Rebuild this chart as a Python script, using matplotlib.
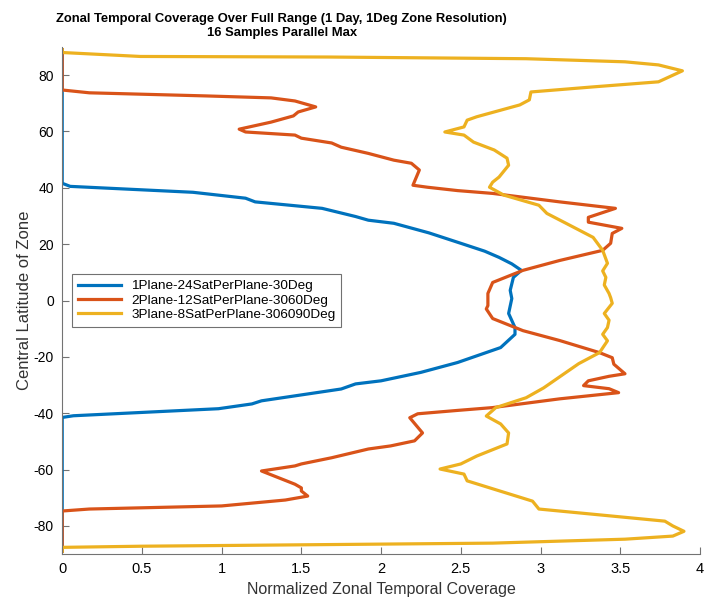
##
## === DEPENDENCIES
##

import matplotlib
matplotlib.use("Agg")
import matplotlib.pyplot as plt

##
## === DATA
##

BLUE_COV = [0, 0, 0.05, 0.82, 1.15, 1.21, 1.63, 1.84, 1.92, 2.08, 2.3, 2.5, 2.65, 2.74, 2.82,
            2.88, 2.83, 2.81, 2.82, 2.8, 2.84, 2.84, 2.75, 2.48, 2.25, 2.0, 1.84, 1.75, 1.25,
            1.19, 0.98, 0.07, 0, 0]
BLUE_LAT = [89, 41.6, 40.5, 38.4, 36.3, 35, 32.7, 29.8, 28.5, 27.4, 24, 20.3, 17.5, 15.3, 13,
            10.7, 8.2, 3.6, 0.7, -4.6, -9.6, -12, -16.7, -22, -25.5, -28.5, -29.6, -31.4, -35.6,
            -36.7, -38.4, -40.9, -41.5, -89]

ORANGE_COV = [0, 0, 0.17, 0.9, 1.31, 1.46, 1.59, 1.48, 1.45, 1.31, 1.11, 1.15, 1.46, 1.5,
              1.69, 1.75, 1.92, 2.08, 2.19, 2.24, 2.2, 2.29, 2.48, 2.7, 3.12, 3.47, 3.3, 3.3,
              3.51, 3.45, 3.44, 3.39, 3.12, 2.89, 2.7, 2.67, 2.67, 2.66, 2.7, 2.89, 3.12, 3.37,
              3.45, 3.46, 3.53, 3.43, 3.3, 3.27, 3.43, 3.49, 3.12, 2.7, 2.48, 2.23, 2.18, 2.26,
              2.21, 2.06, 1.92, 1.69, 1.5, 1.46, 1.25, 1.46, 1.5, 1.5, 1.54, 1.4, 1.0, 0.17, 0, 0]
ORANGE_LAT = [89, 74.7, 73.7, 72.6, 71.9, 70.8, 68.7, 66.9, 65.5, 63.3, 60.8, 59.8, 58.7, 57.6,
              55.9, 54.4, 52.2, 49.8, 48.7, 46.3, 40.9, 40.2, 39, 38, 35, 32.7, 29.5, 27.8,
              25.6, 23.8, 20.3, 17.8, 14.2, 10.7, 6.4, 2.5, -1.8, -3, -6.4, -10.7, -14.2, -18.5,
              -20.3, -22.6, -26, -26.9, -28.5, -30.2, -31.3, -32.7, -34.9, -38, -39, -40.2, -41.6, -47,
              -49.8, -51.6, -52.7, -55.8, -58, -58.7, -60.5, -65.2, -66.5, -67.6, -69.4, -70.8, -72.9, -74, -74.7, -89]

YELLOW_COV = [0, 0, 0.49, 1.67, 2.91, 3.53, 3.74, 3.89, 3.74, 3.33, 2.94, 2.93, 2.87, 2.6,
              2.54, 2.52, 2.4, 2.52, 2.58, 2.71, 2.79, 2.8, 2.74, 2.7, 2.68, 2.77, 2.99, 3.04,
              3.16, 3.33, 3.39, 3.42, 3.39, 3.41, 3.4, 3.43, 3.44, 3.45, 3.4, 3.43, 3.42, 3.39,
              3.42, 3.37, 3.24, 3.02, 2.91, 2.72, 2.66, 2.75, 2.8, 2.79, 2.6, 2.5, 2.37, 2.52,
              2.54, 2.95, 2.99, 3.78, 3.83, 3.9, 3.83, 3.53, 2.7, 0.49, 0, 0]
YELLOW_LAT = [89, 88, 86.6, 86.4, 85.8, 84.7, 83.6, 81.5, 77.6, 75.8, 74, 71.2, 69.4, 65.2,
              64, 61.6, 59.8, 58.7, 56.2, 53.4, 50.5, 48, 43.8, 42, 40.2, 37.4, 33.8, 30.9,
              27.4, 22.4, 17.8, 13.2, 10.5, 8.2, 5.5, 2.5, 1, -1, -4.6, -7, -9.6, -12,
              -14.3, -18.5, -22.4, -31, -34.5, -38, -41, -43.8, -47, -50.9, -55.2, -58, -59.8, -61.6,
              -64, -71.2, -74, -78.3, -80, -81.9, -83.6, -84.7, -86.1, -87.2, -87.6, -89]

LABELS = [
    "1Plane-24SatPerPlane-30Deg",
    "2Plane-12SatPerPlane-3060Deg",
    "3Plane-8SatPerPlane-306090Deg",
]
X_TICKS = [0, 0.5, 1, 1.5, 2, 2.5, 3, 3.5, 4]
X_TICK_LABELS = ["0", "0.5", "1", "1.5", "2", "2.5", "3", "3.5", "4"]
Y_TICKS = [-80, -60, -40, -20, 0, 20, 40, 60, 80]

COLORS = ["#0072BD", "#D95319", "#EDB120"]

##
## === MAIN
##


def main() -> None:
    plt.rcParams["font.family"] = ["Liberation Sans", "DejaVu Sans"]
    plt.rcParams["axes.unicode_minus"] = False
    fig = plt.figure(figsize=(7.07, 6.01), dpi=100)
    ax = fig.add_axes([0.088, 0.078, 0.902, 0.844])
    series = [
        (BLUE_COV, BLUE_LAT),
        (ORANGE_COV, ORANGE_LAT),
        (YELLOW_COV, YELLOW_LAT),
    ]
    for (cov, lat), color, label in zip(series, COLORS, LABELS):
        ax.plot(cov, lat, color=color, lw=2.3, label=label, solid_joinstyle="round")
    ax.set_xlim(0, 4)
    ax.set_ylim(-90, 90)
    ax.set_xticks(X_TICKS)
    ax.set_xticklabels(X_TICK_LABELS)
    ax.set_yticks(Y_TICKS)
    for side in ["top", "right"]:
        ax.spines[side].set_visible(False)
    for side in ["left", "bottom"]:
        ax.spines[side].set_color("0.45")
    ax.tick_params(direction="in", length=5, color="0.45", labelsize=10.5, pad=6)
    ax.tick_params(axis="y", labelsize=10)
    ax.set_xlabel("Normalized Zonal Temporal Coverage", fontsize=11.5, color="0.2")
    ax.set_ylabel("Central Latitude of Zone", fontsize=12, color="0.2", labelpad=1)
    ax.set_title(
        "Zonal Temporal Coverage Over Full Range (1 Day, 1Deg Zone Resolution)\n16 Samples Parallel Max",
        fontsize=9.4, fontweight="bold", linespacing=1.2, x=0.344, pad=8,
    )
    leg = ax.legend(loc="center left", bbox_to_anchor=(0.005, 0.5), fontsize=9.7,
                    frameon=True, fancybox=False, edgecolor="0.3", handlelength=3.2,
                    borderpad=0.4, labelspacing=0.15)
    leg.get_frame().set_linewidth(0.8)
    fig.savefig("out.png", dpi=100)


if __name__ == "__main__":
    main()
